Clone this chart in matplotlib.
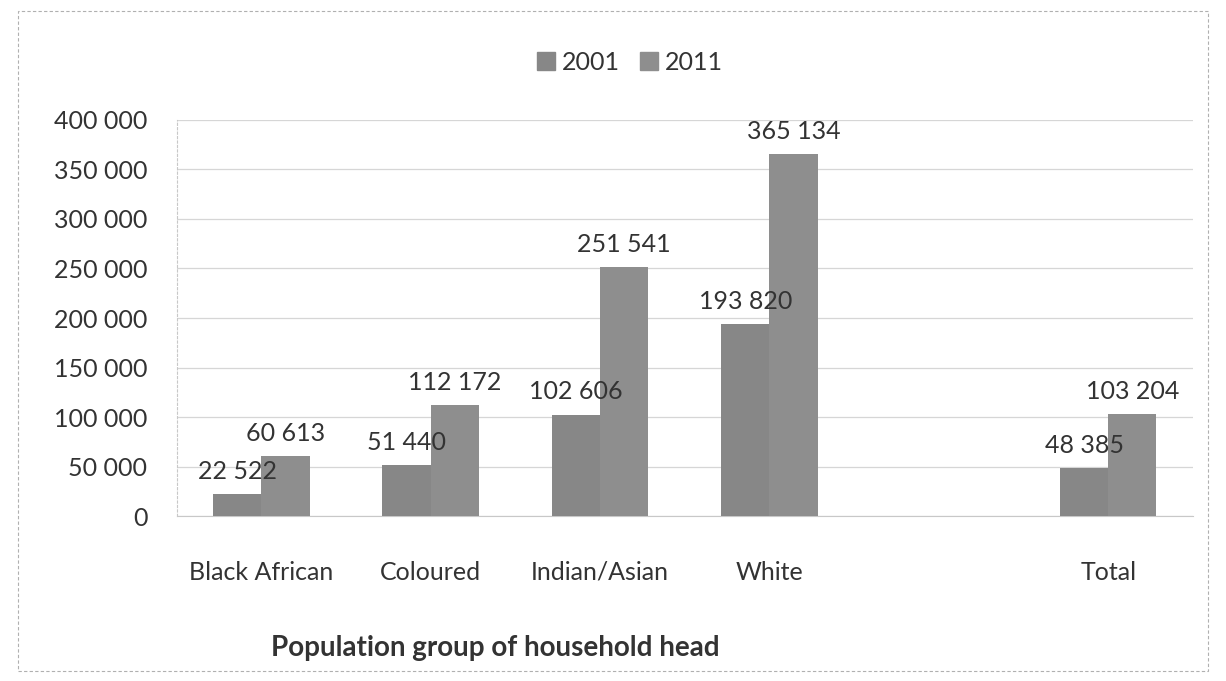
import numpy as np
import matplotlib
matplotlib.use("Agg")
import matplotlib.pyplot as plt
from matplotlib.patches import Rectangle
from matplotlib.ticker import FuncFormatter

plt.rcParams['font.family'] = ['Lato', 'DejaVu Sans']

categories = ['Black African', 'Coloured', 'Indian/Asian', 'White', '', 'Total']
years = ['2001', '2011']
values_2001 = [22522, 51440, 102606, 193820, None, 48385]
values_2011 = [60613, 112172, 251541, 365134, None, 103204]
y_ticks = [0, 50000, 100000, 150000, 200000, 250000, 300000, 350000, 400000]

TEXT = '#333333'
BAR_2001 = '#878787'
BAR_2011 = '#8e8e8e'


def fmt_space(v, pos=None):
    return f"{int(v):,}".replace(',', ' ')


fig = plt.figure(figsize=(12.26, 6.81), dpi=100)
ax = fig.add_axes([0.144, 0.242, 0.829, 0.582])

x = np.arange(len(categories))
w = 0.285
for vals, off, col in [(values_2001, -w / 2, BAR_2001), (values_2011, w / 2, BAR_2011)]:
    xs = [xi + off for xi, v in zip(x, vals) if v is not None]
    hs = [v for v in vals if v is not None]
    bars = ax.bar(xs, hs, width=w, color=col, zorder=3)
    for b, v in zip(bars, hs):
        ax.annotate(fmt_space(v), (b.get_x() + b.get_width() / 2, v),
                    xytext=(0, 8), textcoords='offset points',
                    ha='center', va='bottom', fontsize=18, color=TEXT, zorder=4)

ax.set_xlim(-0.5, len(categories) - 0.5)
ax.set_ylim(0, 400000)
ax.set_yticks(y_ticks)
ax.yaxis.set_major_formatter(FuncFormatter(fmt_space))
ax.set_xticks(x)
ax.set_xticklabels(categories)
ax.tick_params(axis='both', length=0, labelsize=18, colors=TEXT)
ax.tick_params(axis='x', pad=32)
ax.tick_params(axis='y', pad=21)
ax.grid(axis='y', color='#d6d6d6', linewidth=0.9, zorder=0)
for s in ['top', 'right']:
    ax.spines[s].set_visible(False)
ax.spines['left'].set_color('#c8c8c8')
ax.spines['left'].set_linestyle((0, (2, 2)))
ax.spines['bottom'].set_color('#c8c8c8')

fig.text(495 / 1226, 1 - 648 / 681, 'Population group of household head',
         ha='center', va='center', fontsize=20, fontweight='bold', color=TEXT)

handles = [Rectangle((0, 0), 1, 1, color=BAR_2001), Rectangle((0, 0), 1, 1, color=BAR_2011)]
fig.legend(handles, years, loc='center', bbox_to_anchor=(630 / 1226, 1 - 62 / 681),
           ncol=2, frameon=False, fontsize=18, handlelength=0.7, handleheight=0.7,
           handletextpad=0.3, columnspacing=0.8, labelcolor=TEXT)

fig.patches.append(Rectangle((18 / 1226, 10 / 681), 1190 / 1226, 660 / 681,
                             transform=fig.transFigure, fill=False,
                             edgecolor='#b0b0b0', linewidth=0.8, linestyle=(0, (3, 2))))

fig.savefig('out.png', dpi=100, facecolor='white')
